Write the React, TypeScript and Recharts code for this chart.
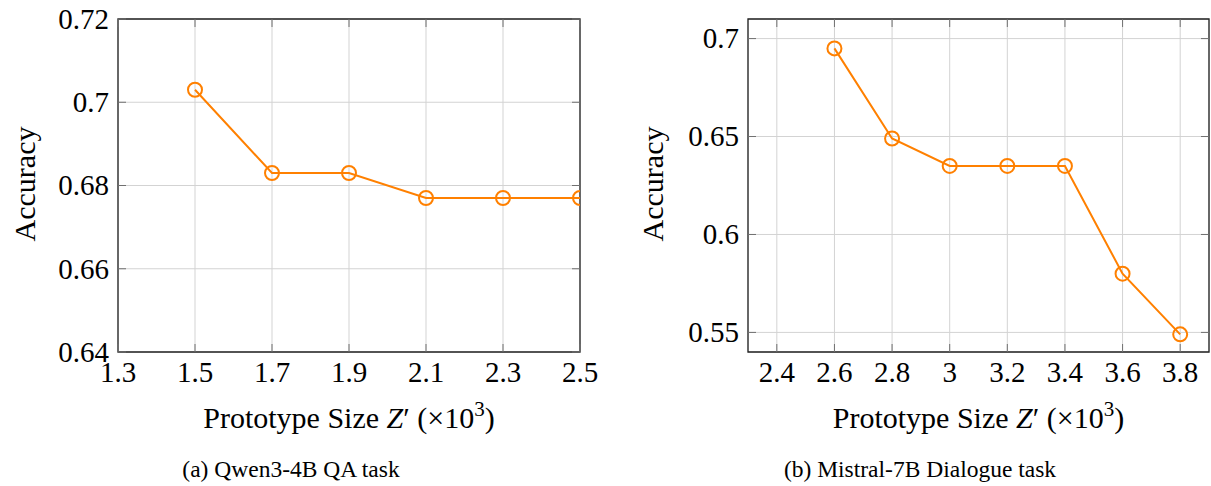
import React from 'react';
import {
  LineChart,
  Line,
  XAxis,
  YAxis,
  CartesianGrid,
  ReferenceArea,
} from 'recharts';

// ---- Data ----
const qwenSizes = [1.5, 1.7, 1.9, 2.1, 2.3, 2.5];
const qwenAccuracy = [0.703, 0.683, 0.683, 0.677, 0.677, 0.677];
const qwenXTicks = [1.3, 1.5, 1.7, 1.9, 2.1, 2.3, 2.5];
const qwenYTicks = [0.64, 0.66, 0.68, 0.7, 0.72];

const mistralSizes = [2.6, 2.8, 3.0, 3.2, 3.4, 3.6, 3.8];
const mistralAccuracy = [0.695, 0.649, 0.635, 0.635, 0.635, 0.58, 0.549];
const mistralXTicks = [2.4, 2.6, 2.8, 3.0, 3.2, 3.4, 3.6, 3.8];
const mistralYTicks = [0.55, 0.6, 0.65, 0.7];

const ORANGE = '#ff8000';
const GRID = '#d3d3d3';
const TICKC = '#707070';
const FONT = '"Liberation Serif", "Times New Roman", serif';
const TICK_FS = 29;
const LABEL_FS = 30;
const CAPTION_FS = 23.5;

const fmt = (v: number) => String(Number(v.toFixed(3)));

type PanelProps = {
  left: number;
  width: number;
  height: number;
  margin: { top: number; right: number; bottom: number; left: number };
  xs: number[];
  ys: number[];
  xTicks: number[];
  yTicks: number[];
  xDomain: [number, number];
  yDomain: [number, number];
};

function Panel(p: PanelProps) {
  const data = p.xs.map((x, i) => ({ x, y: p.ys[i] }));
  const plotW = p.width - p.margin.left - p.margin.right - 60;
  const plotH = p.height - p.margin.top - p.margin.bottom - 30;

  const XTick = (props: any) => {
    const { x, y, payload } = props;
    return (
      <g>
        <line x1={x} x2={x} y1={y} y2={y - 8} stroke={TICKC} strokeWidth={1} />
        <line x1={x} x2={x} y1={y - plotH} y2={y - plotH + 8} stroke={TICKC} strokeWidth={1} />
        <text
          x={x}
          y={y + 10}
          dy="0.68em"
          textAnchor="middle"
          fontFamily={FONT}
          fontSize={TICK_FS}
          fill="#000"
        >
          {fmt(payload.value)}
        </text>
      </g>
    );
  };

  const YTick = (props: any) => {
    const { x, y, payload } = props;
    return (
      <g>
        <line x1={x} x2={x + 8} y1={y} y2={y} stroke={TICKC} strokeWidth={1} />
        <line x1={x + plotW} x2={x + plotW - 8} y1={y} y2={y} stroke={TICKC} strokeWidth={1} />
        <text
          x={x - 9}
          y={y}
          dy="0.34em"
          textAnchor="end"
          fontFamily={FONT}
          fontSize={TICK_FS}
          fill="#000"
        >
          {fmt(payload.value)}
        </text>
      </g>
    );
  };

  return (
    <div style={{ position: 'absolute', left: p.left, top: 0 }}>
      <LineChart width={p.width} height={p.height} data={data} margin={p.margin}>
        <CartesianGrid stroke={GRID} strokeWidth={1} />
        <XAxis
          dataKey="x"
          type="number"
          domain={p.xDomain}
          ticks={p.xTicks}
          allowDataOverflow
          height={30}
          tickSize={0}
          tickMargin={0}
          tickLine={false}
          axisLine={false}
          tick={<XTick />}
          interval={0}
        />
        <YAxis
          dataKey="y"
          type="number"
          domain={p.yDomain}
          ticks={p.yTicks}
          allowDataOverflow
          width={60}
          tickSize={0}
          tickMargin={0}
          tickLine={false}
          axisLine={false}
          tick={<YTick />}
          interval={0}
        />
        <ReferenceArea
          x1={p.xDomain[0]}
          x2={p.xDomain[1]}
          y1={p.yDomain[0]}
          y2={p.yDomain[1]}
          fill="none"
          fillOpacity={0}
          stroke="#222"
          strokeWidth={1.3}
          ifOverflow="visible"
        />
        <Line
          type="linear"
          dataKey="y"
          stroke={ORANGE}
          strokeWidth={2}
          dot={{ r: 7, fill: 'none', stroke: ORANGE, strokeWidth: 2 }}
          isAnimationActive={false}
        />
      </LineChart>
    </div>
  );
}

const abs = (left: number, top: number, extra: React.CSSProperties = {}): React.CSSProperties => ({
  position: 'absolute',
  left,
  top,
  transform: 'translate(-50%, -50%)',
  whiteSpace: 'nowrap',
  fontFamily: FONT,
  color: '#000',
  lineHeight: 1,
  ...extra,
});

function XLabel({ cx, cy }: { cx: number; cy: number }) {
  return (
    <div style={abs(cx, cy, { fontSize: LABEL_FS })}>
      Prototype Size <i>Z</i>′ (×10<sup style={{ fontSize: '0.7em', verticalAlign: '0.55em', lineHeight: 0 }}>3</sup>)
    </div>
  );
}

export default function App() {
  return (
    <div style={{ position: 'absolute', left: 0, top: 0, width: 1211, height: 486, background: '#fff', overflow: 'hidden' }}>
      <Panel
        left={0}
        width={600}
        height={400}
        margin={{ top: 19, right: 20, bottom: 18, left: 58 }}
        xs={qwenSizes}
        ys={qwenAccuracy}
        xTicks={qwenXTicks}
        yTicks={qwenYTicks}
        xDomain={[1.3, 2.5]}
        yDomain={[0.64, 0.72]}
      />
      <Panel
        left={620}
        width={591}
        height={400}
        margin={{ top: 19, right: 2, bottom: 18, left: 68 }}
        xs={mistralSizes}
        ys={mistralAccuracy}
        xTicks={mistralXTicks}
        yTicks={mistralYTicks}
        xDomain={[2.3, 3.9]}
        yDomain={[0.54, 0.71]}
      />
      <div style={abs(25, 184, { fontSize: LABEL_FS, transform: 'translate(-50%, -50%) rotate(-90deg)' })}>Accuracy</div>
      <div style={abs(653, 184, { fontSize: LABEL_FS, transform: 'translate(-50%, -50%) rotate(-90deg)' })}>Accuracy</div>
      <XLabel cx={349} cy={418} />
      <XLabel cx={978.5} cy={418} />
      <div style={abs(291, 470, { fontSize: CAPTION_FS })}>(a) Qwen3-4B QA task</div>
      <div style={abs(920, 470, { fontSize: CAPTION_FS })}>(b) Mistral-7B Dialogue task</div>
    </div>
  );
}
